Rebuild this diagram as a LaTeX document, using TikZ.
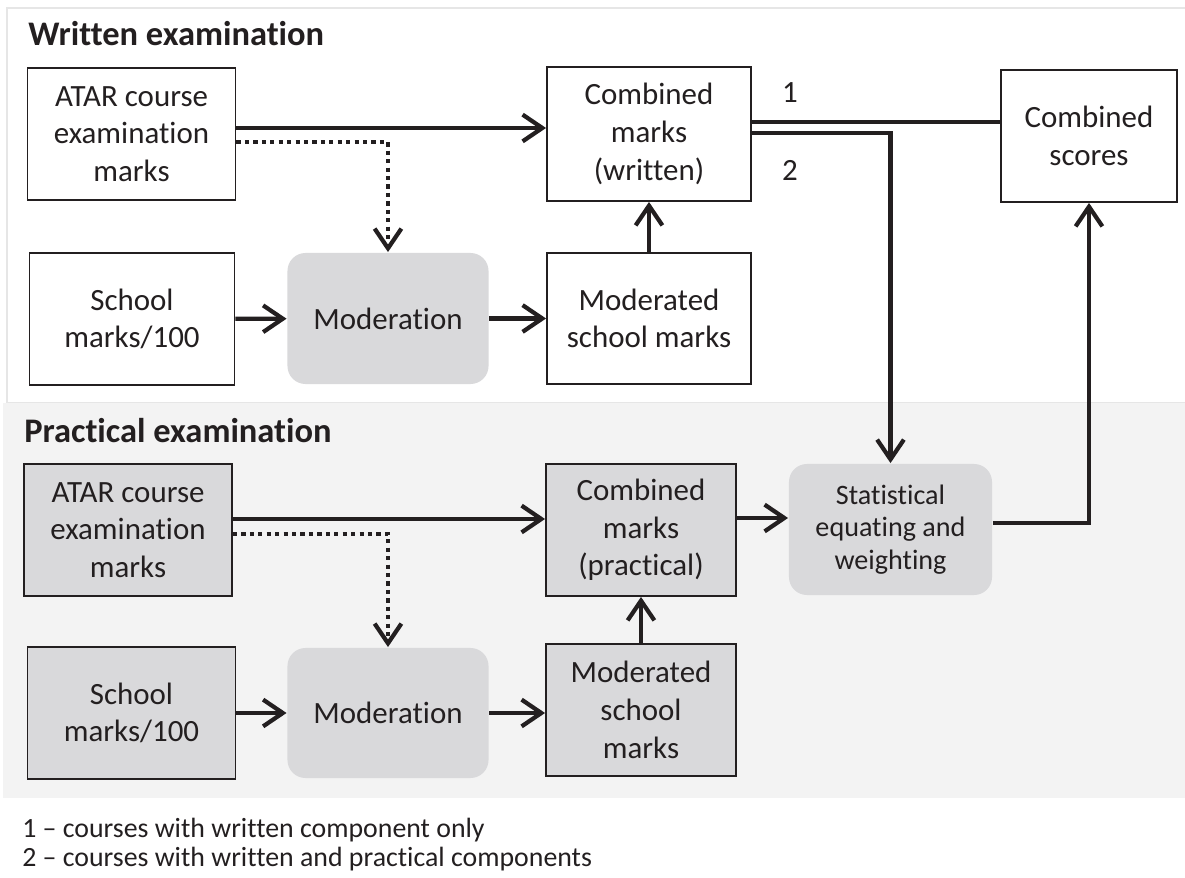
\documentclass[tikz,border=0pt]{standalone}
\usepackage{fontspec}
\setmainfont{Carlito}[Ligatures={NoCommon,NoContextual,NoRequired}]
\usetikzlibrary{arrows.meta}
\definecolor{ink}{HTML}{231F20}
\definecolor{boxgrey}{HTML}{D9D9DB}
\definecolor{panelgrey}{HTML}{F3F3F3}
\definecolor{edgegrey}{HTML}{E6E6E6}
\tikzset{
  every picture/.style={
    >={Straight Barb[length=14pt, width=19pt]}
  },
  markbox/.style={
    draw=ink, line width=1.3pt, fill=white, text=ink,
    minimum width=5.1cm, minimum height=3.3cm,
    align=center, inner sep=2pt,
    font=\fontsize{22}{26.8}\selectfont
  },
  greybox/.style={markbox, fill=boxgrey},
  procbox/.style={markbox, draw=none, fill=boxgrey, rounded corners=0.45cm},
  flow/.style={->, draw=ink, line width=3pt},
  dotflow/.style={flow, dash pattern=on 3pt off 3pt},
  heading/.style={
    anchor=base west, inner sep=0pt, text=ink,
    font=\fontsize{24.5}{28}\selectfont\bfseries
  },
  note/.style={anchor=base west, inner sep=0pt, text=ink, font=\fontsize{19.8}{23}\selectfont}
}

\begin{document}
\begin{tikzpicture}[x=0.025cm, y=-0.025cm]
  \useasboundingbox (0,0) rectangle (1185,878);
  % panels
  \draw[edgegrey, line width=1pt, fill=white] (7,8) rectangle (1192,403);
  \fill[panelgrey] (3,403) rectangle (1185,798);
  \node[heading] (headW) at (28,46) {Written examination};
  \node[heading] (headP) at (24,443) {Practical examination};

  % written examination
  \node[markbox, minimum width=5.2cm] (atarW) at (131.5,134) {ATAR course\\examination\\marks};
  \node[markbox, minimum height=3.35cm] (combW) at (649,134) {Combined\\marks\\(written)};
  \node[markbox, minimum width=4.4cm] (scores) at (1089,136) {Combined\\scores};
  \node[markbox, minimum width=5.125cm] (schoolW) at (132,319) {School\\marks/100};
  \node[procbox, minimum width=5.025cm, minimum height=3.275cm] (modW) at (388,318.5) {Moderation};
  \node[markbox, minimum height=3.275cm] (modschW) at (649,318.5) {Moderated\\school marks};

  % practical examination
  \node[greybox, minimum width=5.2cm] (atarP) at (128,530) {ATAR course\\examination\\marks};
  \node[greybox, minimum width=4.75cm] (combP) at (641,530) {Combined\\marks\\(practical)};
  \node[procbox, minimum width=5.075cm, minimum height=3.275cm,
        font=\fontsize{20}{23}\selectfont] (stat) at (890.5,529.5) {Statistical\\equating and\\weighting};
  \node[greybox, minimum width=5.2cm] (schoolP) at (131.5,713) {School\\marks/100};
  \node[procbox, minimum width=5.025cm, minimum height=3.25cm] (modP) at (388,713) {Moderation};
  \node[greybox, minimum width=4.75cm] (modschP) at (641,710) {Moderated\\school\\marks};

  % connectors, written
  \draw[flow] (atarW.east |- 0,128) -- (combW.west |- 0,128);
  \draw[dotflow] (atarW.east |- 0,142) -| (modW.north);
  \draw[flow] (schoolW) -- (modW);
  \draw[flow] (modW) -- (modschW);
  \draw[flow] (modschW) -- (combW);
  \draw[flow, -] (combW.east |- 0,122) -- (scores.west |- 0,122);
  \draw[flow] (combW.east |- 0,133) -| (stat.north);
  \node[text=ink, font=\fontsize{22}{26.8}\selectfont] (one) at (790,93) {1};
  \node[text=ink, font=\fontsize{22}{26.8}\selectfont] (two) at (790,170) {2};

  % connectors, practical
  \draw[flow] (atarP.east |- 0,519) -- (combP.west |- 0,519);
  \draw[dotflow] (atarP.east |- 0,534) -| (modP.north);
  \draw[flow] (schoolP) -- (modP);
  \draw[flow] (modP) -- (modschP.west |- modP);
  \draw[flow] (modschP) -- (combP);
  \draw[flow] (combP.east |- 0,518) -- (stat.west |- 0,518);
  \draw[flow] (stat.east |- 0,523) -| (scores.south);

  % key
  \node[note] (key1) at (22,837) {1 – courses with written component only};
  \node[note] (key2) at (22,866) {2 – courses with written and practical components};
\end{tikzpicture}
\end{document}
